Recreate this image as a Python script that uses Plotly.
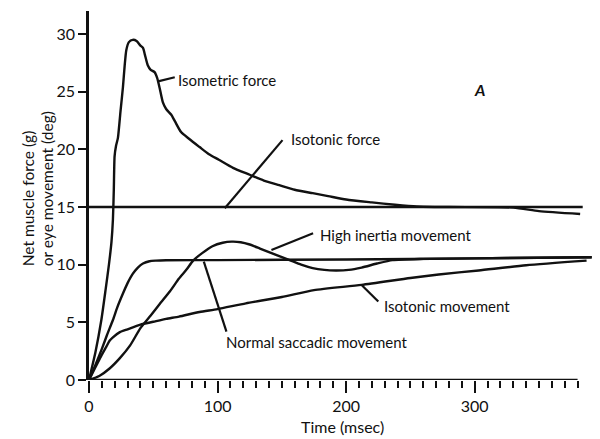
import plotly.graph_objects as go

# ---------------- data ----------------
isotonic_force_t = [0, 384]
isotonic_force = [15, 15]

isometric_t = [0, 5, 9.6, 13, 15.5, 17.5, 18.6, 19.3, 19.9, 21, 22.5, 24.5, 26.4, 27.7, 29, 31, 34,
               37, 40, 42, 43.5, 45.7, 48, 51, 53, 55, 57.4, 60, 64, 67, 71.6, 78, 86, 93, 101,
               112, 125, 136, 148, 160, 174, 186, 200, 220, 238, 255, 280, 330, 350, 382]
isometric = [0, 2.4, 5.2, 7.9, 10, 12, 13.9, 16.5, 19.4, 20.3, 21.0, 23.3, 25.4, 27.2, 28.6, 29.3, 29.5,
             29.4, 29.0, 28.8, 28.2, 27.3, 26.9, 26.7, 26.2, 25.3, 24.1, 23.5, 23.0, 22.4, 21.5, 20.9, 20.2, 19.6, 19.1,
             18.4, 17.8, 17.3, 16.9, 16.5, 16.2, 15.95, 15.65, 15.4, 15.2, 15.05, 15.0, 14.95, 14.65, 14.4]

high_inertia_t = [0, 8, 16, 24, 32, 40, 48, 55, 63, 70, 76, 81, 88, 96, 104, 111, 118, 125, 133, 142,
                  149, 156, 165, 174, 183, 192, 202, 212, 224, 236, 260, 300, 350, 391]
high_inertia = [0, 0.35, 1.0, 1.9, 3.0, 4.5, 5.6, 6.6, 7.7, 8.8, 9.6, 10.35, 11.0, 11.6, 11.9, 12.0, 11.95,
                11.75, 11.4, 11.0, 10.7, 10.4, 10.0, 9.7, 9.55, 9.5, 9.55, 9.75, 10.1, 10.4, 10.5, 10.55, 10.6, 10.65]

saccadic_t = [0, 5, 10, 14, 18.6, 22, 26.4, 30, 34, 38, 42, 47, 52, 60, 100, 200, 300, 391]
saccadic = [0, 1.3, 2.7, 3.9, 5.2, 6.3, 7.5, 8.4, 9.2, 9.75, 10.1, 10.3, 10.35, 10.38, 10.4, 10.45, 10.55, 10.65]

isotonic_move_t = [0, 5, 10, 13.5, 16, 18.6, 24, 30, 40, 50, 60, 70, 86, 100, 122, 150, 175, 212,
                   250, 272, 303, 340, 387]
isotonic_move = [0, 1.1, 2.2, 2.9, 3.4, 3.7, 4.15, 4.4, 4.8, 5.05, 5.3, 5.5, 5.9, 6.15, 6.65, 7.2, 7.8, 8.25,
                 8.85, 9.15, 9.5, 9.95, 10.35]

x_major_ticks = [0, 50, 100, 150, 200, 250, 300, 350]
x_major_labels = ["0", "", "100", "", "200", "", "300", ""]
x_minor_ticks = list(range(10, 381, 10))
y_ticks = [0, 5, 10, 15, 20, 25, 30]

# labels: (text, text x, text y, leader from (x0,y0) to (x1,y1))
labels = [
    ("Isometric force", 68.0, 26.0, 53.7, 25.9, 66.7, 26.25),
    ("Isotonic force", 155.6, 20.9, 105.6, 14.9, 150.5, 20.8),
    ("High inertia movement", 178.2, 12.6, 141.9, 11.27, 174.3, 12.72),
    ("Isotonic movement", 227.6, 6.42, 212.0, 8.24, 225.0, 6.8),
    ("Normal saccadic movement", 104.8, 3.32, 89.3, 10.26, 106.9, 4.19),
]

# ---------------- figure ----------------
INK = "#111111"
FONT = "Lato"
OFF = 8                      # page body margin in the browser
W, H = 600 - OFF, 439 - OFF  # figure size so that page fits the window
ML, MT = 89 - OFF, 11 - OFF
PW, PH = 504, 369
MR, MB = W - ML - PW, H - MT - PH


def px_to_paper(px, py):
    # px, py are window pixel coordinates
    return (px - OFF - ML) / PW, (MT + PH - (py - OFF)) / PH


fig = go.Figure()
for t, v in [(isotonic_force_t, isotonic_force), (isometric_t, isometric),
             (high_inertia_t, high_inertia), (saccadic_t, saccadic),
             (isotonic_move_t, isotonic_move)]:
    fig.add_trace(go.Scatter(x=t, y=v, mode="lines",
                             line=dict(color=INK, width=2.4, shape="spline", smoothing=0.6),
                             hoverinfo="skip", showlegend=False))

for text, tx, ty, x0, y0, x1, y1 in labels:
    fig.add_shape(type="line", x0=x0, y0=y0, x1=x1, y1=y1, xref="x", yref="y",
                  line=dict(color=INK, width=2.2))
    fig.add_annotation(x=tx, y=ty, xref="x", yref="y", text=text, showarrow=False,
                       xanchor="left", yanchor="middle",
                       font=dict(family=FONT, size=15, color=INK))

# x axis line (ends at the last tick)
fig.add_shape(type="line", x0=0, y0=0, x1=380, y1=0, xref="x", yref="y",
              line=dict(color=INK, width=2.5))

# panel letter
fig.add_annotation(x=304, y=25.15, xref="x", yref="y", text="<b><i>A</i></b>", showarrow=False,
                   font=dict(family=FONT, size=16, color=INK))

# axis titles
tx, ty = px_to_paper(342.5, 427)
fig.add_annotation(x=tx, y=ty, xref="paper", yref="paper", text="Time (msec)", showarrow=False,
                   xanchor="center", yanchor="middle", font=dict(family=FONT, size=16, color=INK))
for line_text, cx in [("Net muscle force (g)", 28.3), ("or eye movement (deg)", 46.7)]:
    ax, ay = px_to_paper(cx, 268)
    fig.add_annotation(x=ax, y=ay, xref="paper", yref="paper", text=line_text, showarrow=False,
                       textangle=-90, xanchor="center", yanchor="bottom",
                       font=dict(family=FONT, size=15.5, color=INK))

fig.update_layout(
    width=W, height=H,
    margin=dict(l=ML, r=MR, t=MT, b=MB, pad=0),
    paper_bgcolor="white", plot_bgcolor="white",
    showlegend=False,
    font=dict(family=FONT, color=INK),
    xaxis=dict(range=[0, 392], showgrid=False, zeroline=False, showline=False,
               tickmode="array", tickvals=x_major_ticks, ticktext=x_major_labels,
               ticks="outside", ticklen=12, tickwidth=2, tickcolor=INK,
               tickfont=dict(family=FONT, size=16, color=INK),
               minor=dict(tickmode="array", tickvals=x_minor_ticks, ticks="outside",
                          ticklen=7, tickwidth=2, tickcolor=INK, showgrid=False)),
    yaxis=dict(range=[0, 32], showgrid=False, zeroline=False, showline=True,
               linecolor=INK, linewidth=2.5,
               tickmode="array", tickvals=y_ticks,
               ticks="outside", ticklen=8, tickwidth=2, tickcolor=INK,
               tickfont=dict(family=FONT, size=16, color=INK)),
)

fig.write_html("out.html")
